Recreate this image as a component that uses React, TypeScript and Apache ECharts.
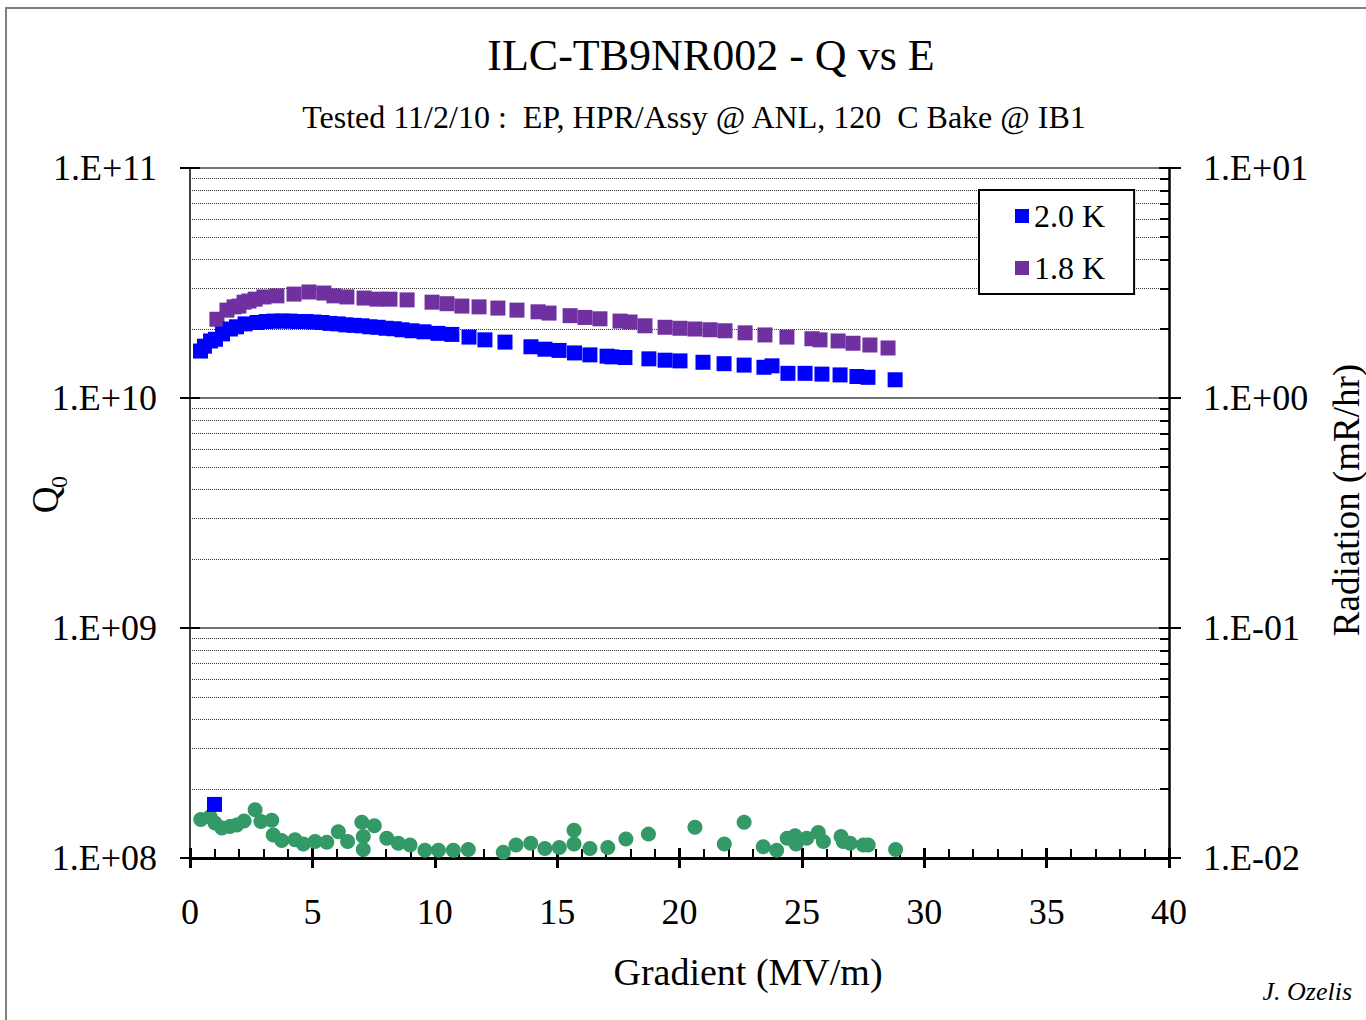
import React, { useEffect, useRef } from 'react';
import * as echarts from 'echarts';

const SERIF = "'Liberation Serif', 'Times New Roman', serif";

// ---- data ----
const gradient20K = [0.43, 0.59, 0.84, 1.04, 1.33, 1.65, 1.90, 2.25, 2.74, 3.11, 3.43, 3.76, 4.09, 4.41, 4.74, 5.07, 5.39, 5.72, 6.05, 6.37, 6.70, 7.03, 7.35, 7.68, 8.01, 8.34, 8.66, 9.07, 9.56, 10.13, 10.70, 11.40, 12.05, 12.87, 13.93, 14.50, 15.08, 15.71, 16.34, 17.04, 17.24, 17.77, 18.75, 19.41, 20.02, 20.96, 21.82, 22.64, 23.45, 23.78, 24.43, 25.13, 25.82, 26.56, 27.25, 27.70, 28.81, 1.00];
const q20K = [1.60e10, 1.68e10, 1.77e10, 1.80e10, 1.90e10, 1.995e10, 2.04e10, 2.10e10, 2.13e10, 2.15e10, 2.16e10, 2.16e10, 2.16e10, 2.15e10, 2.15e10, 2.14e10, 2.13e10, 2.11e10, 2.10e10, 2.08e10, 2.07e10, 2.06e10, 2.04e10, 2.03e10, 2.01e10, 2.00e10, 1.98e10, 1.96e10, 1.94e10, 1.91e10, 1.89e10, 1.84e10, 1.79e10, 1.75e10, 1.67e10, 1.63e10, 1.61e10, 1.57e10, 1.54e10, 1.52e10, 1.51e10, 1.50e10, 1.48e10, 1.46e10, 1.45e10, 1.43e10, 1.41e10, 1.39e10, 1.36e10, 1.38e10, 1.28e10, 1.28e10, 1.27e10, 1.26e10, 1.24e10, 1.23e10, 1.20e10, 1.71e8];

const gradient18K = [1.10, 1.51, 1.80, 2.00, 2.21, 2.41, 2.66, 3.02, 3.55, 4.25, 4.86, 5.47, 5.88, 6.41, 7.11, 7.64, 8.17, 8.87, 9.89, 10.50, 11.11, 11.81, 12.58, 13.36, 14.22, 14.67, 15.53, 16.14, 16.75, 17.57, 17.98, 18.59, 19.41, 20.02, 20.63, 21.25, 21.86, 22.68, 23.49, 24.39, 25.41, 25.74, 26.48, 27.09, 27.78, 28.52];
const q18K = [2.20e10, 2.41e10, 2.49e10, 2.51e10, 2.61e10, 2.64e10, 2.69e10, 2.75e10, 2.78e10, 2.83e10, 2.89e10, 2.86e10, 2.78e10, 2.75e10, 2.72e10, 2.69e10, 2.69e10, 2.67e10, 2.61e10, 2.57e10, 2.51e10, 2.49e10, 2.46e10, 2.41e10, 2.37e10, 2.34e10, 2.28e10, 2.24e10, 2.21e10, 2.16e10, 2.14e10, 2.06e10, 2.03e10, 2.01e10, 1.995e10, 1.98e10, 1.96e10, 1.92e10, 1.88e10, 1.84e10, 1.81e10, 1.79e10, 1.77e10, 1.73e10, 1.70e10, 1.65e10];

const gradientRad = [0.44, 0.82, 1.02, 1.30, 1.63, 1.91, 2.21, 2.66, 2.90, 3.34, 3.40, 3.75, 4.29, 4.63, 5.11, 5.59, 6.06, 6.44, 7.02, 7.08, 7.08, 7.53, 8.04, 8.51, 8.99, 9.60, 10.15, 10.76, 11.37, 12.80, 13.32, 13.92, 14.50, 15.09, 15.69, 15.69, 16.34, 17.07, 17.81, 18.73, 20.63, 21.83, 22.64, 23.42, 23.97, 24.40, 24.72, 24.76, 25.20, 25.67, 25.88, 26.60, 26.69, 26.97, 27.51, 27.71, 28.83];
const radiation = [0.0147, 0.0151, 0.0142, 0.0135, 0.0137, 0.0139, 0.0145, 0.0162, 0.0144, 0.0146, 0.0126, 0.0119, 0.0120, 0.0115, 0.0118, 0.0117, 0.0130, 0.0118, 0.0143, 0.0124, 0.0109, 0.0138, 0.0122, 0.0116, 0.0114, 0.0108, 0.0108, 0.0108, 0.0109, 0.0106, 0.0114, 0.0116, 0.0110, 0.0111, 0.0132, 0.0115, 0.0110, 0.0111, 0.0121, 0.0127, 0.0136, 0.0115, 0.0143, 0.0112, 0.0108, 0.0122, 0.0125, 0.0115, 0.0122, 0.0129, 0.0118, 0.0124, 0.0118, 0.0116, 0.0114, 0.0114, 0.0109];

// ---- axes ----
const xMin = 0;
const xMax = 40;
const xInterval = 5;
const qMin = 1e8;
const qMax = 1e11;
const radMin = 0.01;
const radMax = 10;
const mantissas = [2, 3, 4, 5, 6, 7, 8, 9];
const qDecades = [1e8, 1e9, 1e10];
const radDecades = [0.01, 0.1, 1];

const legendNames = ['2.0 K', '1.8 K'];

function expLabel(v: number) {
  const e = Math.round(Math.log10(v));
  const sign = e < 0 ? '-' : '+';
  return '1.E' + sign + String(Math.abs(e)).padStart(2, '0');
}

export default function App() {
  const ref = useRef<HTMLDivElement>(null);
  useEffect(() => {
    if (!ref.current) return;
    const chart = echarts.init(ref.current, null, { renderer: 'svg' });

    const zip = (xs: number[], ys: number[]) => xs.map((x, i) => [x, ys[i]]);
    const qMinor: number[] = [];
    qDecades.forEach((d) => mantissas.forEach((m) => qMinor.push(m * d)));
    const radMinor: number[] = [];
    radDecades.forEach((d) => mantissas.forEach((m) => radMinor.push(+(m * d).toPrecision(3))));

    const tickLen = (xMax - xMin) * 9 / 979;

    const axisTextStyle = { fontSize: 36, fontFamily: SERIF, color: '#000' };

    chart.setOption({
      animation: false,
      backgroundColor: '#fff',
      grid: { left: 190, right: 197, top: 168, bottom: 162, containLabel: false },
      legend: {
        data: legendNames,
        orient: 'vertical',
        left: 979,
        top: 190,
        itemWidth: 14,
        itemHeight: 14,
        itemGap: 20,
        padding: [10, 29, 10, 36],
        backgroundColor: '#fff',
        borderColor: '#000',
        borderWidth: 2,
        borderRadius: 0,
        icon: 'rect',
        selectedMode: false,
        textStyle: { fontSize: 32, fontFamily: SERIF, color: '#000' },
      },
      xAxis: [
        {
          type: 'value', min: xMin, max: xMax, interval: xInterval, position: 'bottom',
          axisLine: { show: true, onZero: false, lineStyle: { color: '#000', width: 3 } },
          axisTick: { show: true, inside: false, length: 10, lineStyle: { color: '#000', width: 3 } },
          axisLabel: { ...axisTextStyle, margin: 36 },
          splitLine: { show: false },
        },
        {
          type: 'value', min: xMin, max: xMax, interval: xInterval, position: 'bottom',
          axisLine: { show: false, onZero: false },
          axisTick: { show: true, inside: true, length: 10, lineStyle: { color: '#000', width: 3 } },
          minorTick: { show: true, splitNumber: 5, length: 9, lineStyle: { color: '#000', width: 2 } },
          axisLabel: { show: false },
          splitLine: { show: false },
        },
      ],
      yAxis: [
        {
          type: 'log', logBase: 10, min: qMin, max: qMax, position: 'left',
          axisLine: { show: true, onZero: false, lineStyle: { color: '#000', width: 1.5 } },
          axisTick: { show: true, inside: false, length: 10, lineStyle: { color: '#000', width: 2 } },
          axisLabel: { ...axisTextStyle, margin: 33, formatter: expLabel },
          splitLine: { show: true, lineStyle: { color: '#444', width: 1.5, type: 'solid' } },
        },
        {
          type: 'log', logBase: 10, min: radMin, max: radMax, position: 'right',
          axisLine: { show: true, onZero: false, lineStyle: { color: '#000', width: 2.5 } },
          axisTick: { show: true, inside: false, length: 12, lineStyle: { color: '#000', width: 2 } },
          axisLabel: { ...axisTextStyle, margin: 34, formatter: expLabel },
          splitLine: { show: false },
        },
        {
          type: 'log', logBase: 10, min: qMin, max: qMax, position: 'left',
          axisLine: { show: false, onZero: false },
          axisTick: { show: true, inside: true, length: 10, lineStyle: { color: '#000', width: 2 } },
          axisLabel: { show: false },
          splitLine: { show: false },
        },
        {
          type: 'log', logBase: 10, min: radMin, max: radMax, position: 'right',
          axisLine: { show: false, onZero: false },
          axisTick: { show: true, inside: true, length: 10, lineStyle: { color: '#000', width: 2 } },
          axisLabel: { show: false },
          splitLine: { show: false },
        },
      ],
      series: [
        {
          name: 'minorGrid', type: 'line', data: [], xAxisIndex: 0, yAxisIndex: 0, silent: true, z: 1,
          markLine: {
            silent: true, z: 1, symbol: ['none', 'none'], label: { show: false },
            lineStyle: { color: '#333', width: 1, type: 'dotted' },
            data: qMinor.map((v) => ({ yAxis: v })),
          },
        },
        {
          name: 'minorTicks', type: 'line', data: [], xAxisIndex: 0, yAxisIndex: 1, silent: true, z: 1,
          markLine: {
            silent: true, z: 6, symbol: ['none', 'none'], label: { show: false },
            lineStyle: { color: '#000', width: 2, type: 'solid' },
            data: radMinor.map((v) => [{ coord: [xMax - tickLen, v] }, { coord: [xMax, v] }]),
          },
        },
        {
          name: 'Radiation', type: 'scatter', xAxisIndex: 0, yAxisIndex: 1,
          symbol: 'circle', symbolSize: 15, z: 2,
          itemStyle: { color: '#339966', opacity: 1 },
          data: zip(gradientRad, radiation),
        },
        {
          name: '1.8 K', type: 'scatter', xAxisIndex: 0, yAxisIndex: 0,
          symbol: 'rect', symbolSize: 15, z: 3,
          itemStyle: { color: '#7030A0', opacity: 1 },
          data: zip(gradient18K, q18K),
        },
        {
          name: '2.0 K', type: 'scatter', xAxisIndex: 0, yAxisIndex: 0,
          symbol: 'rect', symbolSize: 15, z: 4,
          itemStyle: { color: '#0000FF', opacity: 1 },
          data: zip(gradient20K, q20K),
        },
      ],
      graphic: [
        {
          type: 'rect', silent: true, z: 100,
          shape: { x: 6, y: 8, width: 1500, height: 1200 },
          style: { fill: 'none', stroke: '#808080', lineWidth: 2 },
        },
        {
          type: 'text', x: 711, y: 55,
          style: { text: 'ILC-TB9NR002 - Q vs E', fontSize: 44, fontFamily: SERIF, fill: '#000', align: 'center', verticalAlign: 'middle' },
        },
        {
          type: 'text', x: 694, y: 117,
          style: { text: 'Tested 11/2/10 :  EP, HPR/Assy @ ANL, 120  C Bake @ IB1', fontSize: 32, fontFamily: SERIF, fill: '#000', align: 'center', verticalAlign: 'middle' },
        },
        {
          type: 'text', x: 748, y: 972,
          style: { text: 'Gradient (MV/m)', fontSize: 38, fontFamily: SERIF, fill: '#000', align: 'center', verticalAlign: 'middle' },
        },
        {
          type: 'text', x: 45, y: 500, rotation: Math.PI / 2,
          style: { text: 'Q', fontSize: 37, fontFamily: SERIF, fill: '#000', align: 'center', verticalAlign: 'middle' },
        },
        {
          type: 'text', x: 59, y: 482, rotation: Math.PI / 2,
          style: { text: '0', fontSize: 24, fontFamily: SERIF, fill: '#000', align: 'center', verticalAlign: 'middle' },
        },
        {
          type: 'text', x: 1346, y: 500, rotation: Math.PI / 2,
          style: { text: 'Radiation (mR/hr)', fontSize: 37, fontFamily: SERIF, fill: '#000', align: 'center', verticalAlign: 'middle' },
        },
        {
          type: 'text', x: 1352, y: 991,
          style: { text: 'J. Ozelis', fontSize: 26, fontStyle: 'italic', fontFamily: SERIF, fill: '#000', align: 'right', verticalAlign: 'middle' },
        },
      ],
    });
    return () => chart.dispose();
  }, []);
  return <div ref={ref} style={{ position: 'absolute', left: 0, top: 0, width: 1366, height: 1020 }} />;
}
